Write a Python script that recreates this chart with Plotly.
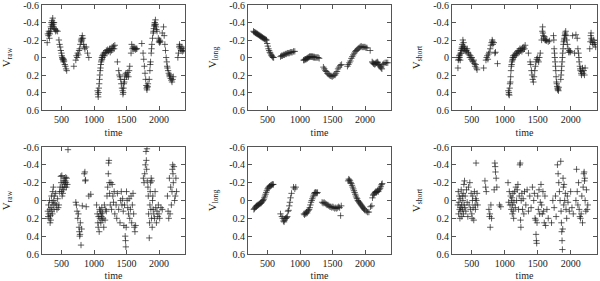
import plotly.graph_objects as go

# ---- data: (time, value) pairs ----
raw_top = [(280,-0.17),(290,-0.27),(300,-0.25),(305,-0.3),(310,-0.28),(315,-0.22),(320,-0.27),(330,-0.3),(335,-0.35),(340,-0.33),
           (345,-0.4),(350,-0.38),(355,-0.42),(360,-0.36),(365,-0.45),(370,-0.4),(375,-0.38),(380,-0.35),(385,-0.4),(390,-0.33),
           (400,-0.32),(410,-0.3),(420,-0.31),(440,-0.3),
           (460,-0.2),(470,-0.15),(480,-0.12),(490,-0.08),(500,-0.05),(505,-0.02),(510,0.0),(515,0.02),(520,0.01),(525,0.03),
           (530,0.05),(535,0.02),(540,0.04),(550,0.08),(560,0.1),(570,0.13),(580,0.15),
           (690,0.1),
           (720,0.03),(730,-0.02),(740,0.0),(750,-0.05),(760,-0.03),(770,-0.08),(780,-0.1),(790,-0.15),(800,-0.2),(805,-0.18),
           (810,-0.22),(815,-0.2),(820,-0.25),(830,-0.22),(840,-0.15),(850,-0.12),(860,-0.1),(880,-0.12),(900,-0.05),(920,0.0),
           (1055,0.38),(1060,0.42),(1065,0.45),(1070,0.4),(1075,0.35),(1080,0.3),(1085,0.25),(1090,0.2),(1095,0.15),(1100,0.12),
           (1105,0.08),(1110,0.05),(1115,0.03),(1120,0.0),(1125,0.02),(1130,-0.02),(1135,0.0),(1140,-0.03),(1150,-0.05),(1160,-0.02),
           (1170,-0.06),(1180,-0.05),(1190,-0.08),(1200,-0.06),(1210,-0.09),(1220,-0.07),(1230,-0.08),(1240,-0.1),(1250,-0.06),
           (1260,-0.1),(1270,-0.08),(1280,-0.12),(1290,-0.1),(1300,-0.13),(1310,-0.1),(1320,-0.14),
           (1360,0.05),
           (1380,0.15),(1390,0.2),(1400,0.22),(1410,0.25),(1420,0.3),(1430,0.35),(1440,0.38),(1445,0.42),(1450,0.4),(1455,0.35),
           (1460,0.3),(1465,0.28),(1470,0.25),(1480,0.2),(1490,0.18),(1500,0.22),(1510,0.2),(1520,0.17),(1530,0.22),(1540,0.15),(1550,0.1),
           (1570,-0.05),(1580,-0.15),(1590,-0.1),(1600,-0.12),(1610,-0.1),(1620,-0.1),(1630,-0.11),(1640,-0.09),(1650,-0.1),(1660,-0.1),
           (1735,-0.16),(1755,-0.05),(1765,0.02),(1775,0.1),(1785,0.18),(1795,0.25),(1805,0.32),(1810,0.35),(1815,0.37),(1820,0.34),
           (1825,0.33),(1830,0.3),
           (1850,0.25),(1860,0.15),(1865,0.08),(1870,0.05),(1880,-0.05),(1885,-0.1),(1890,-0.15),(1900,-0.22),(1910,-0.28),(1915,-0.3),
           (1920,-0.33),(1925,-0.36),(1930,-0.38),(1935,-0.4),(1940,-0.37),(1945,-0.43),(1950,-0.38),(1955,-0.35),(1960,-0.32),(1970,-0.3),
           (1990,-0.22),(2000,-0.18),(2005,-0.2),(2010,-0.17),(2015,-0.19),(2020,-0.18),(2050,-0.28),(2070,-0.35),(2080,-0.25),(2090,-0.15),
           (2100,-0.08),(2110,0.0),(2120,0.05),(2125,0.1),(2130,0.12),(2140,0.15),(2150,0.18),(2160,0.2),(2165,0.22),(2170,0.2),
           (2180,0.24),(2190,0.26),(2200,0.28),(2210,0.25),(2220,0.22),
           (2290,0.0),(2300,-0.05),(2310,-0.12),(2315,-0.15),(2320,-0.13),(2330,-0.1),(2340,-0.08),(2350,-0.12),(2360,-0.07),(2370,-0.1),(2380,-0.08)]

long_top = [(285,-0.3),(295,-0.29),(305,-0.29),(315,-0.28),(325,-0.28),(335,-0.27),(345,-0.27),(355,-0.26),(365,-0.26),(375,-0.25),
            (385,-0.25),(395,-0.24),(405,-0.24),(415,-0.23),(425,-0.23),(435,-0.22),(445,-0.22),(455,-0.21),(465,-0.21),(475,-0.2),
            (485,-0.2),(495,-0.16),(505,-0.13),(515,-0.1),(525,-0.08),(535,-0.06),(545,-0.05),(555,-0.03),(565,-0.02),(575,-0.01),
            (585,0.0),(595,0.0),
            (700,-0.01),(715,-0.02),(730,-0.02),(745,-0.03),(760,-0.03),(775,-0.04),(790,-0.04),(805,-0.05),(820,-0.05),(835,-0.05),
            (850,-0.06),(865,-0.06),(880,-0.06),(900,-0.07),(920,-0.07),
            (1055,0.03),(1065,0.03),(1075,0.02),(1085,0.02),(1095,0.02),(1105,0.01),(1115,0.01),(1125,0.0),(1135,0.0),(1145,-0.01),
            (1155,-0.01),(1165,-0.01),(1175,-0.01),(1185,-0.01),(1195,-0.01),(1205,0.0),(1215,-0.01),(1225,0.0),(1235,0.0),(1250,0.0),
            (1265,0.0),(1280,0.0),(1295,0.01),
            (1360,0.11),(1375,0.13),(1390,0.15),(1405,0.16),(1420,0.18),(1435,0.19),(1450,0.2),(1465,0.21),(1480,0.21),(1495,0.22),
            (1510,0.21),(1525,0.2),(1540,0.2),(1555,0.18),(1570,0.16),(1585,0.13),(1600,0.11),(1620,0.09),(1640,0.08),
            (1730,0.1),(1745,0.08),(1760,0.06),(1775,0.04),(1790,0.01),(1805,-0.01),(1820,-0.03),(1835,-0.05),(1850,-0.07),(1865,-0.08),
            (1880,-0.09),(1895,-0.1),(1910,-0.11),(1925,-0.12),(1940,-0.13),(1955,-0.12),(1970,-0.12),(1985,-0.12),(2000,-0.12),
            (2015,-0.11),(2030,-0.11),(2080,-0.08),
            (2110,0.05),(2120,0.06),(2130,0.07),(2140,0.07),(2150,0.08),(2160,0.07),(2170,0.06),(2180,0.06),(2190,0.05),(2200,0.06),
            (2210,0.08),(2220,0.09),(2230,0.1),(2240,0.11),(2250,0.12),(2260,0.13),(2275,0.08),(2290,0.07),(2310,0.06),(2330,0.06),(2350,0.06)]

short_top = [(290,0.12),(295,0.03),(300,0.0),(305,0.02),(310,-0.02),(315,0.0),(320,-0.03),(325,0.03),(330,-0.05),(335,-0.08),
             (340,-0.05),(345,-0.1),(350,-0.12),(355,-0.15),(360,-0.1),(365,-0.2),(370,-0.13),(375,-0.17),(380,-0.1),(385,-0.08),
             (390,-0.12),(400,-0.1),(410,-0.07),(420,-0.08),(430,-0.1),(440,-0.06),
             (450,-0.05),(460,-0.03),(470,0.0),(480,-0.02),(490,0.02),(500,0.0),(510,0.04),(520,0.05),(530,0.03),(540,0.07),
             (550,0.1),(560,0.08),(570,0.12),(580,0.14),
             (680,0.12),(715,0.03),(725,0.0),(735,-0.02),(745,0.02),(755,-0.04),(765,-0.06),(780,-0.1),(790,-0.14),(800,-0.17),
             (810,-0.2),(815,-0.18),(820,-0.15),(835,-0.17),(850,-0.05),(860,-0.06),(890,0.07),
             (1055,0.38),(1060,0.42),(1065,0.4),(1070,0.43),(1075,0.35),(1080,0.3),(1085,0.28),(1090,0.22),(1095,0.15),(1100,0.1),
             (1105,0.08),(1110,0.05),(1115,0.03),(1120,0.0),(1125,0.02),(1130,-0.02),(1140,0.0),(1150,-0.03),(1160,-0.02),(1170,-0.05),
             (1180,-0.04),(1190,-0.07),(1200,-0.05),(1210,-0.08),(1220,-0.06),(1230,-0.1),(1240,-0.08),(1250,-0.1),(1260,-0.07),
             (1270,-0.11),(1280,-0.09),(1290,-0.12),(1300,-0.1),(1310,-0.14),
             (1360,-0.05),(1385,0.05),(1395,0.08),(1405,0.15),(1415,0.2),(1425,0.25),(1435,0.28),(1445,0.22),(1455,0.15),(1465,0.1),
             (1475,0.05),(1485,0.02),(1495,0.0),(1505,0.03),(1515,0.05),(1525,0.0),(1540,-0.05),
             (1560,-0.2),(1570,-0.3),(1575,-0.35),(1580,-0.28),(1585,-0.25),(1590,-0.22),(1600,-0.24),(1610,-0.2),(1620,-0.2),
             (1630,-0.19),(1640,-0.2),(1660,-0.18),(1680,-0.19),
             (1740,-0.25),(1745,-0.2),(1750,-0.1),(1755,-0.05),(1760,0.0),(1765,0.05),(1770,0.1),(1775,0.15),(1780,0.22),(1785,0.28),
             (1790,0.3),(1795,0.33),(1800,0.35),(1805,0.37),(1810,0.36),(1815,0.38),(1820,0.34),
             (1850,0.25),(1855,0.2),(1860,0.15),(1865,0.1),(1870,0.05),(1875,0.0),(1880,-0.05),(1885,-0.1),(1890,-0.15),(1895,-0.18),
             (1900,-0.2),(1905,-0.22),(1910,-0.25),(1915,-0.28),(1920,-0.26),(1925,-0.3),(1930,-0.25),(1940,-0.2),(1950,-0.15),
             (1960,-0.1),(1970,-0.06),(1980,-0.08),(1990,-0.06),(2000,-0.07),
             (2030,-0.25),(2060,-0.05),(2080,-0.26),(2100,-0.22),
             (2110,-0.1),(2120,-0.05),(2125,0.0),(2130,0.05),(2140,0.1),(2145,0.13),(2150,0.15),(2160,0.18),(2165,0.2),(2170,0.16),
             (2180,0.12),(2190,0.18),(2200,0.15),(2210,0.2),(2220,0.12),
             (2290,-0.1),(2300,-0.18),(2305,-0.25),(2310,-0.28),(2315,-0.22),(2320,-0.2),(2330,-0.17),(2340,-0.15),(2350,-0.2),
             (2360,-0.17),(2370,-0.15),(2380,-0.12)]

raw_bot = [(290,0.12),(295,0.18),(300,0.05),(305,0.15),(310,0.2),(315,0.0),(320,0.1),(325,0.25),(330,0.17),(335,0.22),
           (340,0.08),(345,-0.05),(350,0.12),(355,0.02),(360,0.15),(365,-0.1),(370,0.05),(375,-0.15),(380,0.0),(385,0.1),
           (390,-0.05),(400,0.03),(410,-0.08),(420,0.05),(430,0.1),(440,-0.02),(450,0.08),(460,0.05),(470,-0.1),(480,-0.15),
           (490,-0.27),(495,-0.2),(500,-0.1),(505,-0.28),(510,-0.05),(515,-0.15),(520,-0.08),(525,-0.22),(530,-0.12),(540,-0.2),
           (545,-0.25),(550,-0.15),(555,-0.18),(560,-0.22),(565,-0.26),(570,-0.2),(575,-0.15),(580,-0.25),(590,-0.18),(600,-0.57),
           (720,0.02),(730,0.05),(740,0.12),(750,0.2),(760,0.15),(770,0.3),(775,0.35),(780,0.4),(785,0.38),(790,0.25),
           (800,0.5),(810,0.32),(820,0.06),(850,-0.3),(860,-0.32),(865,-0.22),(870,-0.23),(880,0.07),(920,-0.05),(950,-0.07),
           (1040,0.05),(1050,0.15),(1060,0.25),(1065,0.3),(1070,0.18),(1080,0.35),(1085,0.1),(1090,0.2),(1100,0.12),(1105,0.25),
           (1110,0.15),(1115,0.18),(1120,0.08),(1125,0.22),(1130,0.14),(1140,0.2),(1150,0.3),(1160,0.05),(1170,0.22),(1180,0.1),
           (1190,0.12),(1200,-0.05),(1210,-0.15),(1220,-0.3),(1225,-0.42),(1230,-0.45),(1235,-0.2),(1240,-0.08),(1250,0.05),
           (1260,-0.2),(1270,0.1),(1280,-0.18),(1290,-0.05),(1300,0.02),(1310,-0.1),(1320,0.15),(1340,0.05),(1350,0.2),
           (1360,-0.08),(1380,0.1),(1400,0.25),(1410,0.0),(1420,-0.1),(1430,0.05),(1440,-0.02),(1450,0.12),(1460,0.28),
           (1470,0.05),(1480,0.4),(1485,0.45),(1490,0.52),(1495,0.3),(1500,-0.1),(1510,0.0),(1520,0.08),(1530,0.15),
           (1540,-0.02),(1550,0.2),(1560,0.1),(1570,-0.05),(1580,0.25),(1590,0.05),(1600,-0.08),(1610,0.15),(1620,0.3),
           (1630,0.35),(1640,0.28),
           (1760,-0.25),(1770,-0.2),(1780,-0.3),(1790,-0.4),(1800,-0.55),(1805,-0.45),(1810,-0.35),(1815,-0.58),(1820,-0.22),
           (1830,-0.15),(1835,-0.05),(1840,0.15),(1850,0.42),(1855,0.25),(1860,0.05),(1865,-0.1),(1870,-0.2),(1875,0.1),
           (1880,-0.25),(1885,0.2),(1890,-0.22),(1895,0.3),(1900,0.0),(1905,-0.05),(1910,0.1),(1920,0.15),(1930,0.2),
           (1940,-0.1),(1950,0.08),(1960,0.25),(1970,0.12),(1980,0.18),(1990,0.05),(2000,0.15),(2010,0.2),(2030,0.08),(2050,0.1),
           (2130,-0.05),(2140,0.12),(2150,0.2),(2160,-0.25),(2170,0.15),(2180,-0.15),(2190,0.05),(2200,-0.1),(2205,-0.35),
           (2210,-0.4),(2215,-0.3),(2220,-0.2),(2230,-0.38),(2240,0.0),(2250,-0.05),(2260,-0.25),(2270,-0.1)]

long_bot = [(290,0.1),(300,0.09),(310,0.08),(320,0.07),(330,0.06),(340,0.06),(350,0.05),(360,0.05),(370,0.04),(380,0.04),
            (390,0.03),(400,0.03),(410,0.02),(420,0.01),(430,0.0),(440,-0.01),(450,-0.03),(460,-0.05),(470,-0.07),(480,-0.09),
            (490,-0.11),(500,-0.13),(510,-0.14),(520,-0.15),(530,-0.16),(540,-0.16),(550,-0.17),(560,-0.17),(570,-0.18),
            (580,-0.18),(590,-0.18),
            (700,0.15),(720,0.18),(735,0.2),(745,0.23),(755,0.24),(765,0.22),(775,0.2),(785,0.2),(795,0.19),(805,0.18),
            (815,0.12),(825,0.11),(835,0.06),(845,0.02),(855,-0.03),(870,-0.08),(900,-0.15),(920,-0.13),(935,-0.15),
            (1060,0.15),(1070,0.16),(1080,0.14),(1090,0.15),(1100,0.13),(1110,0.14),(1120,0.12),(1130,0.11),(1140,0.1),
            (1150,0.08),(1160,0.05),(1170,0.02),(1180,0.0),(1190,-0.02),(1200,-0.04),(1210,-0.06),(1220,-0.08),(1230,-0.09),
            (1240,-0.09),(1250,-0.09),(1260,-0.08),(1270,-0.09),
            (1340,0.02),(1355,0.03),(1370,0.02),(1385,0.03),(1400,0.04),(1415,0.05),(1430,0.05),(1445,0.06),(1460,0.07),
            (1475,0.07),(1490,0.08),(1505,0.07),(1520,0.08),(1535,0.09),(1550,0.08),(1565,0.09),(1580,0.08),(1595,0.07),
            (1610,0.08),(1625,0.17),(1635,0.06),
            (1740,-0.22),(1750,-0.24),(1760,-0.23),(1770,-0.22),(1780,-0.2),(1790,-0.19),(1800,-0.17),(1810,-0.15),(1820,-0.13),
            (1830,-0.11),(1840,-0.09),(1850,-0.07),(1860,-0.05),(1870,-0.03),(1880,-0.02),(1890,0.0),(1900,0.01),(1910,0.02),
            (1920,0.03),(1930,0.04),(1940,0.05),(1950,0.06),(1960,0.07),(1970,0.08),(1980,0.09),(1990,0.1),(2000,0.11),
            (2020,0.12),(2040,0.13),(2060,0.13),
            (2085,0.07),(2105,0.06),(2115,-0.03),(2125,-0.06),(2135,-0.07),(2145,-0.08),(2155,-0.09),(2165,-0.1),(2175,-0.09),
            (2185,-0.1),(2195,-0.11),(2205,-0.1),(2215,-0.12),(2225,-0.13),(2235,-0.14),(2245,-0.16),(2255,-0.18),(2265,-0.19)]

short_bot = [(290,0.05),(295,-0.1),(300,0.15),(305,0.02),(310,-0.05),(315,0.1),(320,0.2),(325,-0.02),(330,0.08),(335,0.12),
             (340,-0.12),(345,0.05),(350,0.18),(355,-0.05),(360,0.1),(365,0.0),(370,-0.08),(375,0.15),(380,-0.18),(385,0.05),
             (390,-0.22),(395,0.08),(400,-0.05),(410,0.12),(420,-0.12),(430,0.02),(440,0.18),(450,-0.15),(460,0.05),(470,-0.2),
             (480,0.1),(490,-0.08),(500,0.15),(505,0.2),(510,0.0),(515,-0.05),(520,0.08),(530,0.22),(540,-0.1),(550,0.05),
             (555,0.1),(560,-0.02),(565,-0.42),(570,0.0),(580,-0.08),(590,0.05),
             (700,-0.22),(710,-0.15),(720,-0.1),(760,0.1),(770,0.18),(775,0.15),(780,0.3),(790,0.05),(800,0.2),(840,-0.12),
             (850,-0.42),(855,-0.38),(860,-0.32),(870,-0.25),(880,-0.15),(920,0.05),(940,0.07),
             (1050,-0.2),(1060,0.02),(1070,-0.1),(1080,0.05),(1090,-0.05),(1100,0.1),(1105,0.0),(1110,-0.03),(1115,0.15),
             (1120,0.05),(1125,-0.08),(1130,0.12),(1135,0.2),(1140,0.02),(1150,-0.1),(1160,0.08),(1170,-0.15),(1180,0.0),
             (1190,-0.12),(1200,-0.18),(1210,0.1),(1220,-0.05),(1230,-0.4),(1235,-0.42),(1240,0.22),(1245,0.3),(1250,0.0),
             (1260,-0.08),(1270,0.1),(1280,-0.02),(1290,0.15),(1300,-0.1),(1320,0.05),(1340,-0.12),(1360,0.12),(1380,-0.05),
             (1400,0.08),(1420,-0.15),(1440,0.0),(1450,-0.08),(1460,0.2),(1470,0.22),(1475,0.38),(1480,0.45),(1485,0.48),
             (1490,0.25),(1500,-0.05),(1510,0.1),(1520,-0.12),(1530,0.15),(1540,0.02),(1550,-0.18),(1560,0.05),(1570,0.15),
             (1580,-0.1),(1590,0.12),(1600,0.25),(1610,-0.05),(1620,0.28),(1640,0.1),(1660,0.2),
             (1710,0.25),(1730,0.0),(1750,0.08),(1770,-0.05),(1780,0.18),(1800,-0.4),(1810,-0.3),(1820,-0.2),(1830,-0.1),
             (1840,0.0),(1850,-0.44),(1855,0.12),(1860,0.25),(1865,0.35),(1870,0.45),(1875,0.55),(1880,0.32),(1885,-0.25),
             (1890,-0.15),(1895,0.05),(1900,-0.18),(1910,0.0),(1920,-0.08),(1930,0.1),(1940,0.2),(1950,-0.05),(1960,0.02),
             (1980,0.12),(2000,-0.1),(2020,0.08),(2040,0.15),
             (2080,0.0),(2090,-0.35),(2100,-0.1),(2110,0.05),(2120,-0.2),(2130,0.1),(2140,0.18),(2150,0.2),(2160,0.15),
             (2170,-0.05),(2180,0.25),(2190,-0.15),(2200,-0.3),(2205,-0.32),(2210,-0.22),(2215,-0.25),(2220,0.0),(2230,0.12),
             (2240,-0.12),(2250,0.1),(2260,0.05)]

panels = [raw_top, long_top, short_top, raw_bot, long_bot, short_bot]
ylabels = ["V<sub>raw</sub>", "V<sub>long</sub>", "V<sub>short</sub>"] * 2
xlabel = "time"
x_ticks = [500, 1000, 1500, 2000]
y_ticks = [-0.6, -0.4, -0.2, 0, 0.2, 0.4, 0.6]
y_ticktext = ["-0.6", "-0.4", "-0.2", "0", "0.2", "0.4", "0.6"]

W, H = 600, 281
col_px = [(42, 185), (248, 391), (452, 597)]
row_px = [(5, 110), (147, 254)]

FONT = "Liberation Serif"
fig = go.Figure()
for i, data in enumerate(panels):
    r, c = divmod(i, 3)
    n = i + 1
    xs = [p[0] for p in data]
    ys = [p[1] for p in data]
    fig.add_trace(go.Scatter(
        x=xs, y=ys, mode="markers",
        marker=dict(symbol="cross-thin", size=4.5, line=dict(width=1, color="rgba(30,30,30,0.7)")),
        xaxis="x" if n == 1 else f"x{n}", yaxis="y" if n == 1 else f"y{n}",
        showlegend=False, hoverinfo="skip"))
    xd = [col_px[c][0] / W, col_px[c][1] / W]
    yd = [1 - row_px[r][1] / H, 1 - row_px[r][0] / H]
    common = dict(showline=True, mirror="ticks", linecolor="#555", linewidth=1,
                  ticks="inside", ticklen=4, tickcolor="#555", showgrid=False, zeroline=False,
                  automargin=False, ticklabeloverflow="allow",
                  tickfont=dict(family=FONT, size=10, color="#222"))
    fig.layout[f"xaxis{'' if n == 1 else n}"] = dict(
        domain=xd, range=[200, 2400], tickvals=x_ticks, anchor=("y" if n == 1 else f"y{n}"),
        title=dict(text=xlabel, font=dict(family=FONT, size=10, color="#222"), standoff=4), **common)
    fig.layout[f"yaxis{'' if n == 1 else n}"] = dict(
        domain=yd, range=[0.6, -0.6], tickvals=y_ticks, ticktext=y_ticktext, anchor=("x" if n == 1 else f"x{n}"),
        title=dict(text=ylabels[i], font=dict(family=FONT, size=11, color="#222"), standoff=10), **common)

fig.update_layout(width=W, height=H, margin=dict(l=0, r=0, t=0, b=0),
                  paper_bgcolor="white", plot_bgcolor="white",
                  font=dict(family=FONT, size=10, color="#222"))
fig.write_html("out.html", config={"displayModeBar": False},
               post_script="document.body.style.margin='0';document.body.style.overflow='hidden';")
